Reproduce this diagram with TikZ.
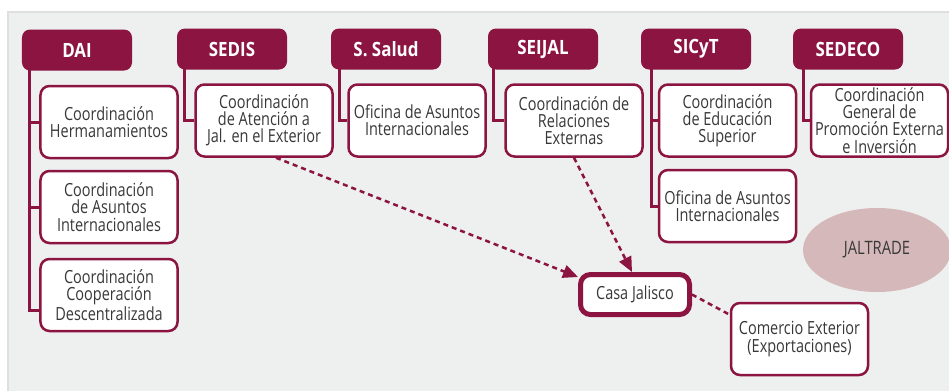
\documentclass[tikz,border=0pt]{standalone}
\usepackage{fontspec}
\usepackage{xcolor}
\usepackage{tikz}
\usetikzlibrary{shapes.geometric}
\usetikzlibrary{arrows.meta}
\usetikzlibrary{positioning}

\newfontfamily\orgfont[FakeStretch=0.8]{Open Sans}
\newfontfamily\headfont[FakeStretch=0.86]{Open Sans}
\definecolor{vino}{HTML}{8B1440}
\definecolor{fondo}{HTML}{EEEFEF}
\definecolor{rosa}{HTML}{D5B8BA}
\definecolor{textgris}{HTML}{383838}

\begin{document}
\begin{tikzpicture}[
    x=0.2mm, y=-0.2mm,
    font=\orgfont\fontsize{10.3}{9.8}\selectfont,
    head/.style={rectangle, rounded corners=1.6mm, fill=vino, text=white, inner sep=+0pt,
        minimum width=22mm, minimum height=8.2mm, font=\headfont\bfseries\fontsize{11.2}{12}\selectfont},
    unit/.style={rectangle, rounded corners=1.8mm, draw=vino, line width=0.5mm, fill=white,
        text=textgris, align=center, inner sep=+0pt, minimum width=27.4mm, minimum height=14.4mm},
    branch/.style={draw=vino, line width=0.6mm},
    link/.style={draw=vino, line width=0.5mm, dash pattern=on 1mm off 0.8mm}
    ]
\useasboundingbox (0,0) rectangle (949,391);
\fill[fondo] (8,12) rectangle (949,391);
\draw[gray!25, line width=0.4mm] (8,391) -- (8,12) -- (949,12);

\node[head] (dai)    at (77,50)  {DAI};
\node[head] (sedis)  at (232,49) {SEDIS};
\node[head] (ssalud) at (386,49) {S. Salud};
\node[head] (seijal) at (543,49) {SEIJAL};
\node[head] (sicyt)  at (696,49) {SICyT};
\node[head] (sedeco) at (848,49) {SEDECO};

\node[unit] (dai1)    at (109,122)   {Coordinación\\Hermanamientos};
\node[unit] (dai2)    at (109,207)   {Coordinación\\de Asuntos\\Internacionales};
\node[unit] (dai3)    at (109,295)   {Coordinación\\Cooperación\\Descentralizada};
\node[unit] (sedis1)  at (264,120.5) {Coordinación\\de Atención a\\Jal. en el Exterior};
\node[unit] (ssalud1) at (417,120.5) {Oficina de Asuntos\\Internacionales};
\node[unit] (seijal1) at (574,120.5) {Coordinación de\\Relaciones\\Externas};
\node[unit] (sicyt1)  at (727.5,120.5) {Coordinación\\de Educación\\Superior};
\node[unit] (sicyt2)  at (727.5,206) {Oficina de Asuntos\\Internacionales};
\node[unit] (sedeco1) at (879.5,120.5) {Coordinación\\General de\\Promoción Externa\\e Inversión};

\node[unit, line width=1mm, rounded corners=2mm, minimum width=21.8mm, minimum height=8mm] (casa) at (635,294.5) {Casa Jalisco};
\node[unit] (comercio) at (799.5,339) {Comercio Exterior\\(Exportaciones)};
\node[ellipse, fill=rosa, text=textgris, minimum width=29.6mm, minimum height=16.8mm,
    font=\orgfont\fontsize{10.5}{11}\selectfont] (jaltrade) at (877,250) {JALTRADE};

\draw[branch] ([xshift=1.6mm,yshift=1mm]dai.south west) |- ([yshift=-3mm]dai3.west);
\draw[branch] ([xshift=1.6mm,yshift=1mm]dai.south west) |- (dai1.west);
\draw[branch] ([xshift=1.6mm,yshift=1mm]dai.south west) |- (dai2.west);
\draw[branch] ([xshift=1.6mm,yshift=1mm]sedis.south west) |- (sedis1.west);
\draw[branch] ([xshift=1.8mm,yshift=1mm]ssalud.south west) |- (ssalud1.west);
\draw[branch] ([xshift=1.2mm,yshift=1mm]seijal.south west) |- (seijal1.west);
\draw[branch] ([xshift=2.2mm,yshift=1mm]sicyt.south west) |- (sicyt1.west);
\draw[branch] ([xshift=2.2mm,yshift=1mm]sicyt.south west) |- (sicyt2.west);
\draw[branch] ([xshift=2.2mm,yshift=1mm]sedeco.south west) |- (sedeco1.west);

\draw[link, -{Triangle[length=3mm, width=2.6mm]}] ([xshift=2.4mm]sedis1.south) -- ([yshift=-1mm]casa.north west);
\draw[link, -{Triangle[length=3mm, width=2.6mm]}] (seijal1.south) -- ([xshift=-0.6mm]casa.north);
\draw[link] (casa.east) -- ([yshift=-2.6mm]comercio.north west);

\end{tikzpicture}
\end{document}
